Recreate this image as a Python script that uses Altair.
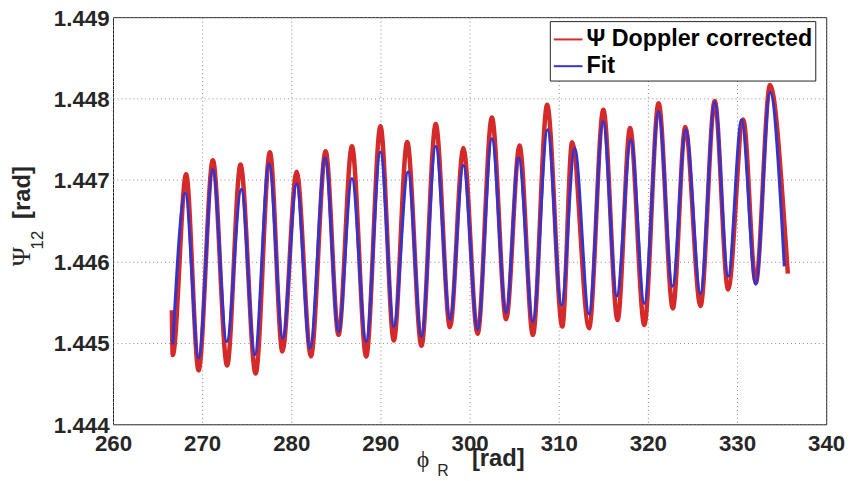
import altair as alt
import pandas as pd

RAW = "Ψ Doppler corrected"
FIT = "Fit"

# Fit curve: start, alternating peaks/troughs, end
fit_x = [266.7, 268.1, 269.6, 271.2, 272.76, 274.4, 275.9, 277.5, 279.05, 280.6,
         282.1, 283.8, 285.3, 286.8, 288.4, 290.0, 291.5, 293.1, 294.6, 296.2,
         297.8, 299.3, 300.9, 302.5, 304.1, 305.5, 307.1, 308.75, 310.3, 311.8,
         313.4, 314.98, 316.5, 318.1, 319.6, 321.2, 322.75, 324.25, 325.9, 327.5,
         329.0, 330.5, 332.1, 333.7, 335.3]
fit_y = [1.44498, 1.446845, 1.444813, 1.44713, 1.445016, 1.446886, 1.444854, 1.4472, 1.445057, 1.446955,
         1.444935, 1.447272, 1.445138, 1.44702, 1.445016, 1.447345, 1.445199, 1.447101, 1.445077, 1.447415,
         1.445289, 1.447179, 1.445167, 1.447508, 1.44537, 1.447272, 1.44526, 1.447618, 1.445463, 1.447386,
         1.445354, 1.44772, 1.445573, 1.447496, 1.445484, 1.447841, 1.445695, 1.447618, 1.445606, 1.447955,
         1.445817, 1.44774, 1.44572, 1.448077, 1.445939]

raw_x = [266.6, 266.7, 268.2, 269.6, 271.2, 272.8, 274.3, 276.0, 277.6, 279.0, 280.6,
         282.2, 283.85, 285.3, 286.8, 288.4, 290.0, 291.5, 293.0, 294.6, 296.2,
         297.8, 299.3, 300.9, 302.5, 304.1, 305.6, 307.1, 308.7, 310.4, 311.5,
         313.4, 315.0, 316.6, 318.0, 319.6, 321.2, 322.8, 324.2, 325.9, 327.5,
         329.0, 330.7, 332.1, 333.7, 335.5, 335.7]
raw_y = [1.4454, 1.44485, 1.44707, 1.444662, 1.447244, 1.44472, 1.44719, 1.444622, 1.447341, 1.444894, 1.447101,
         1.444833, 1.447354, 1.445098, 1.447415, 1.444833, 1.447659, 1.445028, 1.447467, 1.444963, 1.447687,
         1.445191, 1.447394, 1.44511, 1.447768, 1.445289, 1.447423, 1.445098, 1.447923, 1.445199, 1.447463,
         1.445179, 1.447862, 1.44528, 1.447638, 1.44522, 1.447943, 1.445423, 1.44765, 1.445451, 1.447972,
         1.445655, 1.447744, 1.445735, 1.448167, 1.44617, 1.44585]

x_ticks = [260, 270, 280, 290, 300, 310, 320, 330, 340]
y_ticks = [1.444, 1.445, 1.446, 1.447, 1.448, 1.449]

raw_df = pd.DataFrame({"phi": raw_x, "psi": raw_y, "series": RAW})
fit_df = pd.DataFrame({"phi": fit_x, "psi": fit_y, "series": FIT})

FONT = "Liberation Sans"
color_scale = alt.Scale(domain=[RAW, FIT], range=["#d42a2a", "#3434cc"])
xs = alt.Scale(domain=[260, 340], nice=False)
ys = alt.Scale(domain=[1.444, 1.449], nice=False, zero=False)

x_axis = alt.Axis(values=x_ticks, title=None, labelFont=FONT, labelFontWeight="bold",
                  labelFontSize=22.5, labelColor="#262626", grid=True, gridDash=[1, 3],
                  gridColor="#8a8a8a", tickSize=0, labelPadding=8, domain=False,
                  labelFlush=False)
y_axis = alt.Axis(values=y_ticks, format=".3f", title=None, labelFont=FONT,
                  labelFontWeight="bold", labelFontSize=22.5, labelColor="#262626",
                  grid=True, gridDash=[1, 3], gridColor="#8a8a8a", tickSize=0,
                  labelPadding=4, labelOffset=1, domain=False, labelFlush=False)

legend = alt.Legend(title=None, orient="none", legendX=441, legendY=4, padding=3,
                    strokeColor="#222", fillColor="white", symbolType="stroke",
                    symbolSize=841, symbolStrokeWidth=2, labelFont=FONT,
                    labelFontWeight="bold", labelFontSize=23.5, labelColor="black",
                    labelOffset=3, labelLimit=400, rowPadding=0, cornerRadius=0)

raw_line = alt.Chart(raw_df).mark_line(strokeWidth=4.5, interpolate="monotone").encode(
    x=alt.X("phi:Q", scale=xs, axis=x_axis),
    y=alt.Y("psi:Q", scale=ys, axis=y_axis),
    color=alt.Color("series:N", scale=color_scale, legend=legend),
)
fit_line = alt.Chart(fit_df).mark_line(strokeWidth=3, interpolate="monotone").encode(
    x=alt.X("phi:Q", scale=xs),
    y=alt.Y("psi:Q", scale=ys),
    color=alt.Color("series:N", scale=color_scale, legend=legend),
)


def label(s, x, y, size, bold=False, angle=0, font=FONT, baseline="middle"):
    return alt.Chart(pd.DataFrame({"t": [s]})).mark_text(
        font=font, fontSize=size, fontWeight="bold" if bold else "normal",
        angle=angle, align="center", baseline=baseline, color="#262626",
    ).encode(text="t:N", x=alt.value(x), y=alt.value(y))


titles = [
    label("ϕ", 313, 447, 24, font="Liberation Serif"),
    label("R", 333, 463, 16, baseline="alphabetic"),
    label("[rad]", 389, 446, 24, bold=True),
    label("Ψ", -92, 242, 26, angle=270, font="Liberation Serif"),
    label("12", -76, 225, 17, angle=270),
    label("[rad]", -91, 177, 24, bold=True, angle=270),
]

chart = alt.layer(raw_line, fit_line, *titles).properties(
    width=720, height=411,
    autosize=alt.AutoSizeParams(type="none"),
    padding={"left": 106, "top": 7, "right": 19, "bottom": 52},
    background="white",
).configure_view(stroke="#222", strokeWidth=1)

chart.save("out.html", embed_options={"renderer": "svg", "actions": False})
